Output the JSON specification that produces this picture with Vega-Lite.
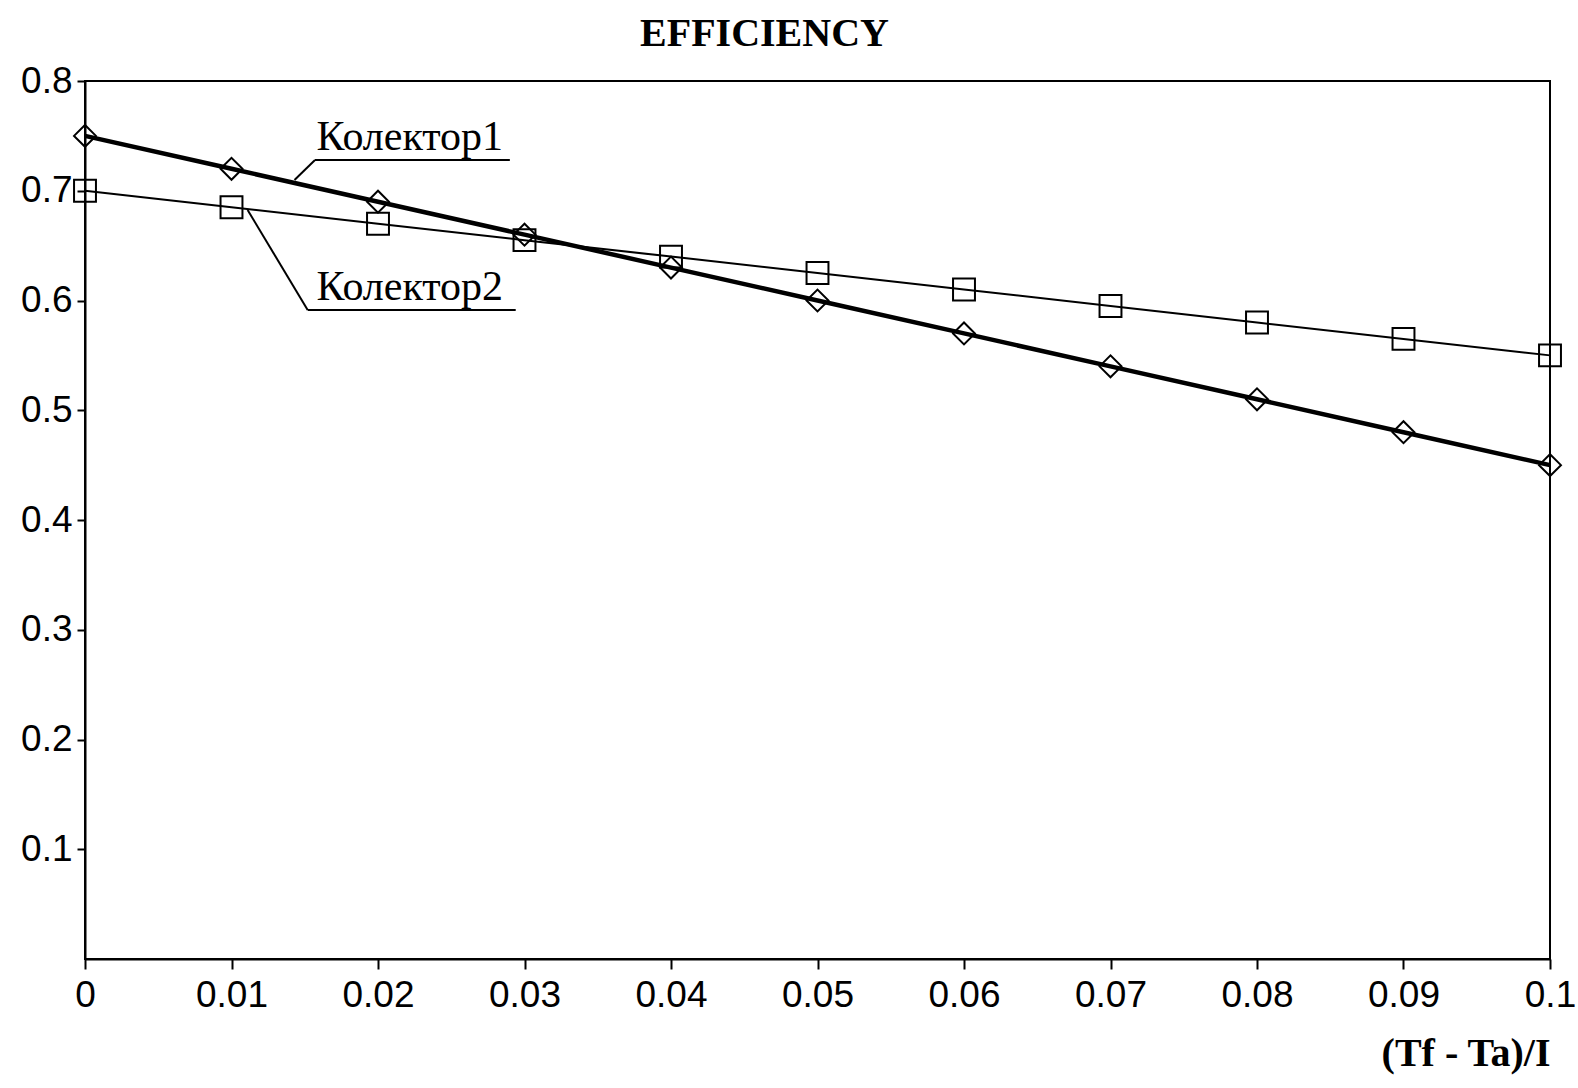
{
  "$schema": "https://vega.github.io/schema/vega-lite/v6.json",
  "width": 1465,
  "height": 878,
  "autosize": {"type": "none"},
  "padding": {"left": 85, "top": 81, "right": 28, "bottom": 129},
  "background": "white",
  "config": {
    "view": {"stroke": "black", "strokeWidth": 2},
    "axis": {
      "grid": false,
      "domainColor": "black",
      "domainWidth": 2,
      "tickColor": "black",
      "tickWidth": 2,
      "labelColor": "black",
      "labelFont": "Liberation Sans",
      "labelFontSize": 37,
      "titleColor": "black"
    }
  },
  "title": {
    "text": "EFFICIENCY",
    "font": "Liberation Serif",
    "fontWeight": "bold",
    "fontSize": 40,
    "color": "black",
    "anchor": "middle",
    "dx": -53,
    "offset": 8
  },
  "datasets": {
    "series": [
      {"x": 0.00, "eff": 0.750, "series": "Колектор1"},
      {"x": 0.01, "eff": 0.720, "series": "Колектор1"},
      {"x": 0.02, "eff": 0.690, "series": "Колектор1"},
      {"x": 0.03, "eff": 0.660, "series": "Колектор1"},
      {"x": 0.04, "eff": 0.630, "series": "Колектор1"},
      {"x": 0.05, "eff": 0.600, "series": "Колектор1"},
      {"x": 0.06, "eff": 0.570, "series": "Колектор1"},
      {"x": 0.07, "eff": 0.540, "series": "Колектор1"},
      {"x": 0.08, "eff": 0.510, "series": "Колектор1"},
      {"x": 0.09, "eff": 0.480, "series": "Колектор1"},
      {"x": 0.10, "eff": 0.450, "series": "Колектор1"},
      {"x": 0.00, "eff": 0.700, "series": "Колектор2"},
      {"x": 0.01, "eff": 0.685, "series": "Колектор2"},
      {"x": 0.02, "eff": 0.670, "series": "Колектор2"},
      {"x": 0.03, "eff": 0.655, "series": "Колектор2"},
      {"x": 0.04, "eff": 0.640, "series": "Колектор2"},
      {"x": 0.05, "eff": 0.625, "series": "Колектор2"},
      {"x": 0.06, "eff": 0.610, "series": "Колектор2"},
      {"x": 0.07, "eff": 0.595, "series": "Колектор2"},
      {"x": 0.08, "eff": 0.580, "series": "Колектор2"},
      {"x": 0.09, "eff": 0.565, "series": "Колектор2"},
      {"x": 0.10, "eff": 0.550, "series": "Колектор2"}
    ],
    "leaders": [
      {"x": 0.0157, "y": 0.728, "x2": 0.0290, "y2": 0.728},
      {"x": 0.0157, "y": 0.728, "x2": 0.0143, "y2": 0.7098},
      {"x": 0.0152, "y": 0.5913, "x2": 0.0294, "y2": 0.5913},
      {"x": 0.0152, "y": 0.5913, "x2": 0.0111, "y2": 0.6825}
    ],
    "labels": [
      {"x": 0.0158, "y": 0.737, "label": "Колектор1"},
      {"x": 0.0158, "y": 0.6005, "label": "Колектор2"}
    ]
  },
  "layer": [
    {
      "data": {"name": "series"},
      "transform": [{"filter": "datum.series === 'Колектор1'"}],
      "mark": {"type": "line", "color": "black", "strokeWidth": 4.5},
      "encoding": {
        "x": {
          "field": "x",
          "type": "quantitative",
          "scale": {"domain": [0, 0.1], "nice": false, "zero": false},
          "axis": {
            "values": [0, 0.01, 0.02, 0.03, 0.04, 0.05, 0.06, 0.07, 0.08, 0.09, 0.1],
            "format": ".2~f",
            "tickSize": 10,
            "labelPadding": 8,
            "labelFlush": false,
            "title": "(Tf - Ta)/I",
            "titleFont": "Liberation Serif",
            "titleFontWeight": "bold",
            "titleFontSize": 40,
            "titleAnchor": "end",
            "titlePadding": 20
          }
        },
        "y": {
          "field": "eff",
          "type": "quantitative",
          "scale": {"domain": [0, 0.8], "nice": false},
          "axis": {
            "values": [0.1, 0.2, 0.3, 0.4, 0.5, 0.6, 0.7, 0.8],
            "format": ".1f",
            "tickSize": 8,
            "labelPadding": 5,
            "labelFlush": false,
            "title": null
          }
        }
      }
    },
    {
      "data": {"name": "series"},
      "transform": [{"filter": "datum.series === 'Колектор2'"}],
      "mark": {"type": "line", "color": "black", "strokeWidth": 2},
      "encoding": {
        "x": {"field": "x", "type": "quantitative"},
        "y": {"field": "eff", "type": "quantitative"}
      }
    },
    {
      "data": {"name": "series"},
      "mark": {"type": "point", "filled": false, "stroke": "black", "strokeWidth": 2, "size": 480, "opacity": 1},
      "encoding": {
        "x": {"field": "x", "type": "quantitative"},
        "y": {"field": "eff", "type": "quantitative"},
        "shape": {
          "field": "series",
          "type": "nominal",
          "scale": {"domain": ["Колектор1", "Колектор2"], "range": ["diamond", "square"]},
          "legend": null
        }
      }
    },
    {
      "data": {"name": "leaders"},
      "mark": {"type": "rule", "color": "black", "strokeWidth": 2},
      "encoding": {
        "x": {"field": "x", "type": "quantitative"},
        "y": {"field": "y", "type": "quantitative"},
        "x2": {"field": "x2"},
        "y2": {"field": "y2"}
      }
    },
    {
      "data": {"name": "labels"},
      "mark": {"type": "text", "align": "left", "baseline": "alphabetic", "font": "Liberation Serif", "fontSize": 42, "color": "black"},
      "encoding": {
        "x": {"field": "x", "type": "quantitative"},
        "y": {"field": "y", "type": "quantitative"},
        "text": {"field": "label"}
      }
    }
  ]
}
